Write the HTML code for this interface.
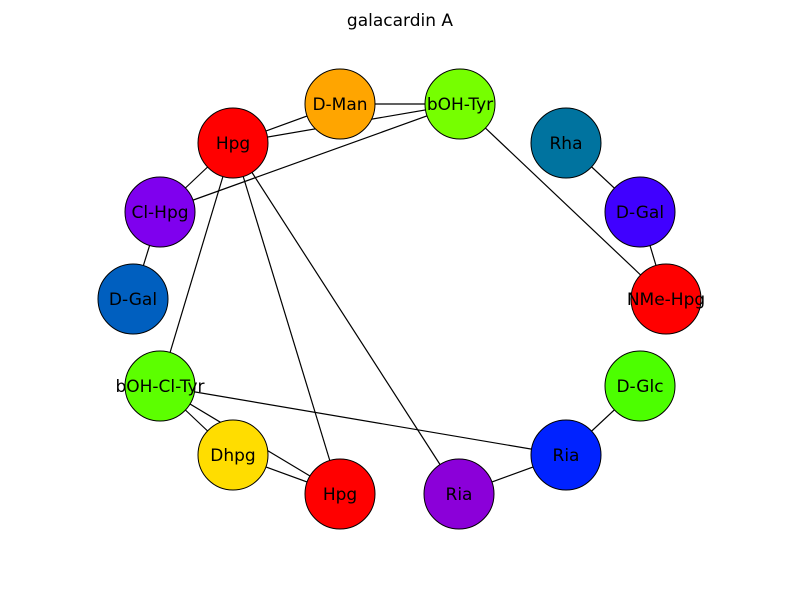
<!DOCTYPE html>
<html><head><meta charset="utf-8"><style>
html,body{margin:0;padding:0;background:#fff;}
svg{display:block;font-family:"DejaVu Sans","Liberation Sans",sans-serif;}
</style></head><body>
<svg id="chart" width="800" height="600" viewBox="0 0 800 600">
<rect width="800" height="600" fill="#fff"/>
<text x="400" y="26" text-anchor="middle" font-size="17" fill="#000">galacardin A</text>
<g id="edges"></g>
<g id="nodes"></g>
</svg>
<script>
const nodeLabels = ["D-Man","bOH-Tyr","Rha","D-Gal","NMe-Hpg","D-Glc","Ria","Ria","Hpg","Dhpg","bOH-Cl-Tyr","D-Gal","Cl-Hpg","Hpg"];
const nodeX = [340,460,566,640,666,640,566,459,340,233,160,133,160,233];
const nodeY = [104,104,143,212,299,386,455,494,494,455,386,299,212,143];
const nodeColors = ["#ffa500","#76ff00","#00739f","#4000ff","#ff0000","#4cff00","#0022ff","#8b00d9","#ff0000","#ffdd00","#5cff00","#005fbf","#7f00ee","#ff0000"];
const edgeFrom = [0,13,13,13,12,12,13,13,13,1,2,3,5,6,6,10,9,10];
const edgeTo   = [1,1,0,12,11,1,10,8,7,4,3,4,6,7,10,9,8,8];
const R = 35;
const NS = "http://www.w3.org/2000/svg";
const eg = document.getElementById('edges');
const ng = document.getElementById('nodes');
for (let i = 0; i < edgeFrom.length; i++) {
  const l = document.createElementNS(NS, 'line');
  l.setAttribute('x1', nodeX[edgeFrom[i]]); l.setAttribute('y1', nodeY[edgeFrom[i]]);
  l.setAttribute('x2', nodeX[edgeTo[i]]); l.setAttribute('y2', nodeY[edgeTo[i]]);
  l.setAttribute('stroke', '#000'); l.setAttribute('stroke-width', '1.2');
  
  
  eg.appendChild(l);
}
for (let i = 0; i < nodeLabels.length; i++) {
  const c = document.createElementNS(NS, 'circle');
  c.setAttribute('cx', nodeX[i]); c.setAttribute('cy', nodeY[i]); c.setAttribute('r', R);
  c.setAttribute('fill', nodeColors[i]); c.setAttribute('stroke', '#000'); c.setAttribute('stroke-width', '1');
  
  
  ng.appendChild(c);
}
for (let i = 0; i < nodeLabels.length; i++) {
  const t = document.createElementNS(NS, 'text');
  t.setAttribute('x', nodeX[i]); t.setAttribute('y', nodeY[i] + 6);
  t.setAttribute('text-anchor', 'middle'); t.setAttribute('font-size', '17');
  t.textContent = nodeLabels[i];
  
  
  ng.appendChild(t);
}
</script>
</body></html>
